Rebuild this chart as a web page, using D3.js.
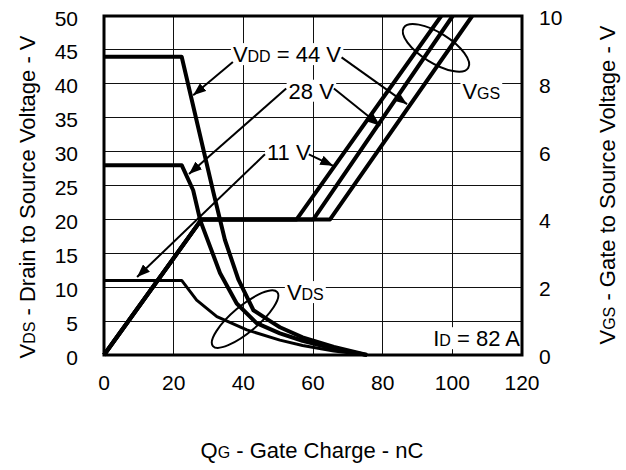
<!DOCTYPE html>
<html>
<head>
<meta charset="utf-8">
<script src="https://cdn.jsdelivr.net/npm/d3@7/dist/d3.min.js"></script>
<style>
  body { margin: 0; background: #fff; }
  svg { display: block; font-family: Arial, "Liberation Sans", sans-serif; }
</style>
</head>
<body>
<svg id="chart" width="626" height="470"></svg>
<script>
// tick values
var qgTicks = [0, 20, 40, 60, 80, 100, 120];
var vdsTicks = [0, 5, 10, 15, 20, 25, 30, 35, 40, 45, 50];
var vgsTicks = [0, 2, 4, 6, 8, 10];

// VDS curves, [QG nC, VDS V]
var vds44 = [[0, 44], [22.3, 44], [31.4, 24], [34.7, 17], [38.6, 11.1], [42.9, 6.6], [47.7, 5], [50.5, 4.1], [57, 2.6], [66, 1.2], [75.5, 0]];
var vds28 = [[0, 28], [22.3, 28], [25.6, 24.3], [27.6, 19.9], [33.3, 12.1], [38.1, 7.6], [43.8, 4.7], [50.5, 3.2], [57, 2.1], [66, 0.9], [75.5, 0]];
var vds11 = [[0, 11], [22.3, 11], [26.6, 8.1], [32.4, 5.65], [41, 3.7], [50.5, 2.2], [57, 1.4], [66, 0.6], [75.5, 0]];

// VGS curves, [QG nC, VGS V]
var vgs11 = [[0, 0], [28, 4], [55.3, 4], [96.8, 10]];
var vgs28 = [[0, 0], [28, 4], [60.1, 4], [100.1, 10]];
var vgs44 = [[0, 0], [28, 4], [64.9, 4], [105.7, 10]];

// annotation texts, anchored in data units [QG, VDS]
var labels = [
  { main: 'V', sub: 'DD', rest: ' = 44 V', at: [37.0, 43.2] },
  { main: '', sub: '', rest: '28 V', at: [53.0, 37.8] },
  { main: '', sub: '', rest: '11 V', at: [46.8, 28.8] },
  { main: 'V', sub: 'GS', rest: '', at: [102.9, 37.8] },
  { main: 'V', sub: 'DS', rest: '', at: [52.5, 8.1] },
  { main: 'I', sub: 'D', rest: ' = 82 A', at: [94.5, 1.3] }
];
// leader arrows: from -> to, in data units [QG, VDS]
var arrows = [
  [[37.0, 43.2], [25.6, 38.3]],
  [[68.2, 43.9], [87.0, 37.0]],
  [[52.3, 39.3], [24.4, 26.7]],
  [[66.0, 39.3], [79.3, 33.8]],
  [[46.2, 29.6], [9.5, 11.5]],
  [[58.8, 29.6], [65.8, 27.9]]
];
// ellipses: centre [QG, VDS], radii px, rotation
var ellipses = [
  { at: [95.3, 45.3], rx: 38, ry: 15, rot: 32 },
  { at: [40.5, 5.3], rx: 42, ry: 13, rot: -40 }
];

var svg = d3.select('#chart');
var plotL = 104, plotR = 522, plotT = 16, plotB = 355;

var x = d3.scaleLinear().domain([0, 120]).range([plotL, plotR]);
var yL = d3.scaleLinear().domain([0, 50]).range([plotB, plotT]);
var yR = d3.scaleLinear().domain([0, 10]).range([plotB, plotT]);

svg.append('defs').append('marker')
    .attr('id', 'arr')
    .attr('viewBox', '0 0 13 10')
    .attr('refX', 13).attr('refY', 5)
    .attr('markerWidth', 13).attr('markerHeight', 10)
    .attr('markerUnits', 'userSpaceOnUse')
    .attr('orient', 'auto')
  .append('path')
    .attr('d', 'M0,0L13,5L0,10Z')
    .attr('fill', '#000');

// grid
var grid = svg.append('g').attr('stroke', '#111').attr('stroke-width', 1).attr('shape-rendering', 'crispEdges');
grid.selectAll('.gx').data(qgTicks.slice(1, -1)).enter().append('line')
    .attr('x1', x).attr('x2', x).attr('y1', plotT).attr('y2', plotB);
grid.selectAll('.gy').data(vdsTicks.slice(1, -1)).enter().append('line')
    .attr('y1', yL).attr('y2', yL).attr('x1', plotL).attr('x2', plotR);

// axes labels
svg.append('g').selectAll('text').data(vdsTicks).enter().append('text')
    .attr('x', 78).attr('y', function (d) { return yL(d) + 9.5; })
    .attr('text-anchor', 'end').attr('font-size', 21).text(function (d) { return d; });
svg.append('g').selectAll('text').data(vgsTicks).enter().append('text')
    .attr('x', 539).attr('y', function (d) { return yR(d) + 9; })
    .attr('font-size', 21).text(function (d) { return d; });
svg.append('g').selectAll('text').data(qgTicks).enter().append('text')
    .attr('x', x).attr('y', 390)
    .attr('text-anchor', 'middle').attr('font-size', 21).text(function (d) { return d; });

function title(sel, main, sub, rest, subSize) {
  sel.append('tspan').text(main);
  sel.append('tspan').attr('font-size', subSize || 16).text(sub);
  sel.append('tspan').text(rest);
}
var tx = svg.append('text').attr('x', 312).attr('y', 458).attr('text-anchor', 'middle').attr('font-size', 22);
title(tx, 'Q', 'G', ' - Gate Charge - nC');
var tl = svg.append('text').attr('transform', 'translate(35,197) rotate(-90)').attr('text-anchor', 'middle').attr('font-size', 22);
title(tl, 'V', 'DS', ' - Drain to Source Voltage - V');
var tr = svg.append('text').attr('transform', 'translate(615,185) rotate(-90)').attr('text-anchor', 'middle').attr('font-size', 22);
title(tr, 'V', 'GS', ' - Gate to Source Voltage - V');

// curves
var lineL = d3.line().x(function (d) { return x(d[0]); }).y(function (d) { return yL(d[1]); });
var lineR = d3.line().x(function (d) { return x(d[0]); }).y(function (d) { return yR(d[1]); });

var plot = svg.append('g').attr('fill', 'none').attr('stroke', '#000').attr('stroke-linejoin', 'round');
plot.selectAll('.vgs').data([vgs11, vgs28, vgs44]).enter().append('path')
    .attr('d', lineR).attr('stroke-width', 4);
plot.selectAll('.vds').data([vds44, vds28]).enter().append('path')
    .attr('d', lineL).attr('stroke-width', 4);
plot.append('path').datum(vds11).attr('d', lineL).attr('stroke-width', 3);

// ellipses
svg.append('g').selectAll('ellipse').data(ellipses).enter().append('ellipse')
    .attr('transform', function (d) { return 'translate(' + x(d.at[0]) + ',' + yL(d.at[1]) + ') rotate(' + d.rot + ')'; })
    .attr('rx', function (d) { return d.rx; }).attr('ry', function (d) { return d.ry; })
    .attr('fill', 'none').attr('stroke', '#000').attr('stroke-width', 2);

// annotation texts with white boxes
var ann = svg.append('g');
labels.forEach(function (l) {
  var g = ann.append('g');
  var t = g.append('text').attr('x', x(l.at[0])).attr('y', yL(l.at[1])).attr('font-size', 22);
  title(t, l.main, l.sub, l.rest, 16);
  var b = t.node().getBBox();
  g.insert('rect', 'text')
      .attr('x', b.x - 2).attr('y', b.y + 1).attr('width', b.width + 4).attr('height', b.height - 3)
      .attr('fill', '#fff');
});

// leaders
svg.append('g').selectAll('line').data(arrows).enter().append('line')
    .attr('x1', function (d) { return x(d[0][0]); }).attr('y1', function (d) { return yL(d[0][1]); })
    .attr('x2', function (d) { return x(d[1][0]); }).attr('y2', function (d) { return yL(d[1][1]); })
    .attr('stroke', '#000').attr('stroke-width', 2)
    .attr('marker-end', 'url(#arr)');

// frame
svg.append('rect')
    .attr('x', plotL).attr('y', plotT).attr('width', plotR - plotL).attr('height', plotB - plotT)
    .attr('fill', 'none').attr('stroke', '#000').attr('stroke-width', 3);
</script>
</body>
</html>
